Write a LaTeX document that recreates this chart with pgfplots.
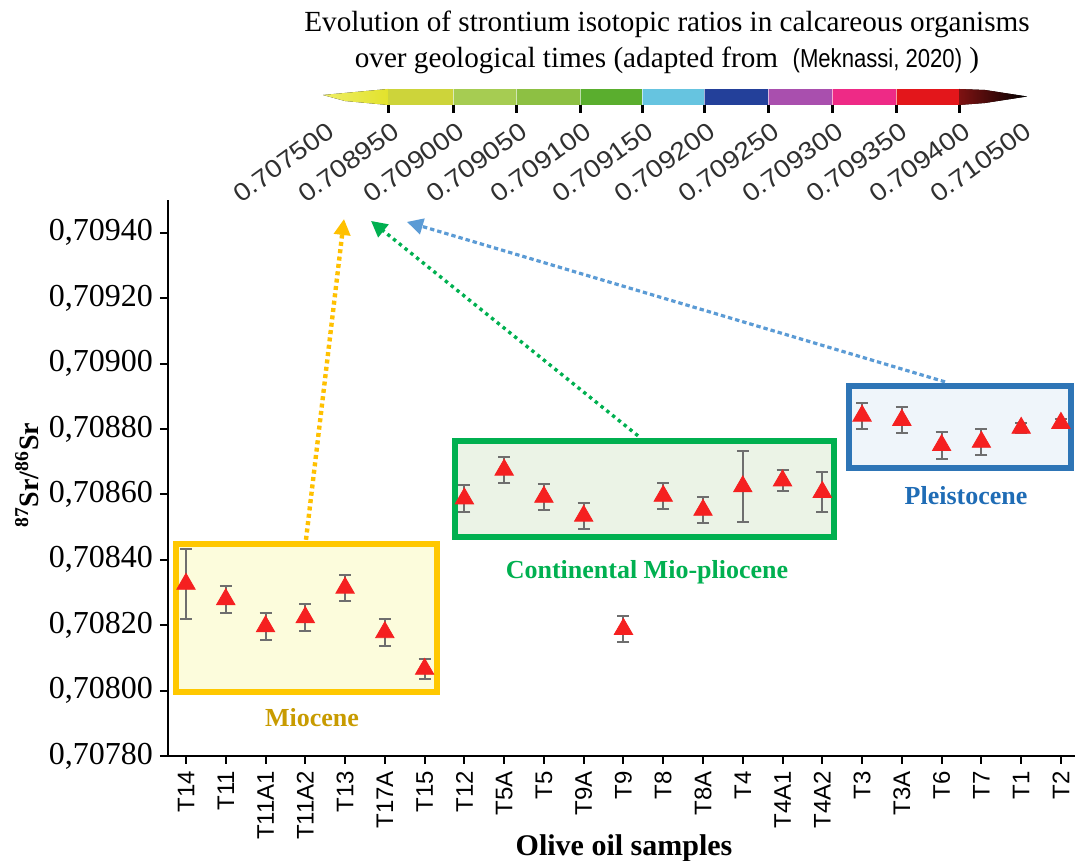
\documentclass[border=0pt]{standalone}
\usepackage{fontspec}
\setmainfont{Liberation Serif}
\setsansfont{Liberation Sans}
\newfontfamily\narrowsans[FakeStretch=0.85]{Liberation Sans}
\newfontfamily\widesans[FakeStretch=1.12]{Liberation Sans}
\usepackage{pgfplots}
\pgfplotsset{compat=1.18}
\usepackage{pgfplotstable}
\usetikzlibrary{arrows.meta}

\definecolor{markred}{HTML}{F52020}
\definecolor{errgray}{HTML}{6E6E6E}
\definecolor{mioborder}{HTML}{FFC800}
\definecolor{miofill}{HTML}{FCFCDC}
\definecolor{miotext}{HTML}{C89B00}
\definecolor{conborder}{HTML}{00B050}
\definecolor{confill}{HTML}{EBF3E6}
\definecolor{context}{HTML}{00B050}
\definecolor{pleborder}{HTML}{2E75B6}
\definecolor{plefill}{HTML}{EFF5FA}
\definecolor{pletext}{HTML}{1F6CB5}
\definecolor{arrorange}{HTML}{FFC000}
\definecolor{arrgreen}{HTML}{00B050}
\definecolor{arrblue}{HTML}{5B9BD5}
\definecolor{cbA}{HTML}{EEEE66}
\definecolor{cbB}{HTML}{E2E22C}
\definecolor{cbC}{HTML}{CDD43A}
\definecolor{cbD}{HTML}{A6CC52}
\definecolor{cbE}{HTML}{8DC043}
\definecolor{cbF}{HTML}{5AAE2E}
\definecolor{cbG}{HTML}{66C4E0}
\definecolor{cbH}{HTML}{23409A}
\definecolor{cbI}{HTML}{A94FAE}
\definecolor{cbJ}{HTML}{EE2A86}
\definecolor{cbK}{HTML}{E3161B}
\definecolor{cbL}{HTML}{7F1212}
\definecolor{cblabel}{HTML}{303030}

\pgfplotstableread{
x y e
0 0.708326 0.000107
1 0.708279 0.000041
2 0.708196 0.000041
3 0.708224 0.000041
4 0.708314 0.000040
5 0.708178 0.000041
6 0.708066 0.000030
7 0.708587 0.000041
8 0.708675 0.000040
9 0.708592 0.000040
10 0.708534 0.000040
11 0.708188 0.000040
12 0.708595 0.000040
13 0.708552 0.000040
14 0.708624 0.000109
15 0.708642 0.000032
16 0.708607 0.000061
17 0.708840 0.000040
18 0.708827 0.000040
19 0.708750 0.000041
20 0.708760 0.000040
21 0.708803 0.000015
22 0.708818 0.000012
}\srdata

\begin{document}
\begin{tikzpicture}
\begin{axis}[
  scale only axis, width=453.5pt, height=278pt,
  xmin=-0.4526, xmax=22.354, ymin=0.7078, ymax=0.7095,
  axis lines*=left,
  axis line style={line width=1pt, black},
  clip=false,
  xtick={0,1,2,3,4,5,6,7,8,9,10,11,12,13,14,15,16,17,18,19,20,21,22},
  xticklabels={T14,T11,T11A1,T11A2,T13,T17A,T15,T12,T5A,T5,T9A,T9,T8,T8A,T4,T4A1,T4A2,T3,T3A,T6,T7,T1,T2},
  ytick={0.7078,0.708,0.7082,0.7084,0.7086,0.7088,0.709,0.7092,0.7094},
  tick align=outside, major tick length=4pt,
  tick style={line width=1pt, black},
  xticklabel style={rotate=90, anchor=east, font=\sffamily\fontsize{12}{14}\selectfont},
  yticklabel style={font=\fontsize{16}{19}\selectfont},
  /pgf/number format/.cd, fixed, fixed zerofill, precision=5, use comma, assume math mode=true,
  /pgfplots/.cd,
  xlabel={Olive oil samples},
  ylabel={\textsuperscript{87}Sr/\textsuperscript{86}Sr},
  xlabel style={at={(axis description cs:0.5028,-0.1655)}, anchor=center, font=\bfseries\fontsize{15}{18}\selectfont},
  ylabel style={at={(axis description cs:-0.1555,0.505)}, anchor=center, font=\bfseries\fontsize{14}{17}\selectfont},
]
% group boxes
\draw[line width=3pt, draw=mioborder, fill=miofill] (axis cs:-0.2514,0.707996) rectangle (axis cs:6.311,0.708448);
\draw[line width=3pt, draw=conborder, fill=confill] (axis cs:6.764,0.708470) rectangle (axis cs:16.294,0.708763);
\draw[line width=3pt, draw=pleborder, fill=plefill] (axis cs:16.671,0.708681) rectangle (axis cs:22.253,0.708931);
% group labels
\node[font=\bfseries\fontsize{13}{15}\selectfont, text=miotext] at (axis cs:3.168,0.707916) {Miocene};
\node[font=\bfseries\fontsize{13}{15}\selectfont, text=context] at (axis cs:11.591,0.708363) {Continental Mio-pliocene};
\node[font=\bfseries\fontsize{13}{15}\selectfont, text=pletext] at (axis cs:19.614,0.708595) {Pleistocene};
% arrows
\draw[arrorange, line width=2.2pt, dash pattern=on 2pt off 1.7pt, -{Triangle[length=8pt,width=8pt]}] (axis cs:3.017,0.708461) -- (axis cs:3.973,0.709442);
\draw[arrgreen, line width=1.7pt, dash pattern=on 1.7pt off 2pt, -{Triangle[length=8pt,width=8pt]}] (axis cs:11.365,0.708779) -- (axis cs:4.652,0.709436);
\draw[arrblue, line width=1.6pt, dash pattern=on 2.2pt off 1.5pt, -{Triangle[length=8pt,width=8pt]}] (axis cs:19.085,0.708944) -- (axis cs:5.557,0.709433);
% data
\addplot[only marks, mark=triangle*, mark size=5.3pt, color=markred,
  error bars/.cd, y dir=both, y explicit,
  error bar style={line width=1pt, color=errgray},
  error mark options={rotate=90, mark size=3pt, line width=1pt, color=errgray}]
  table[x=x, y=y, y error=e] {\srdata};
\coordinate (O) at (rel axis cs:0,0);
\end{axis}

\begin{scope}[shift={(O)}, x=0.5pt, y=-0.5pt, shift={(-168,-756)}]
% title
\node[font=\fontsize{14.6}{18}\selectfont, align=center] at (667,42)
  {Evolution of strontium isotopic ratios in calcareous organisms\\
   over geological times (adapted from \ {\narrowsans\fontsize{13}{18}\selectfont (Meknassi, 2020)} )};
% colour bar
\fill[left color=cbA, right color=cbB] (323,95) -- (388,89) -- (388,105) -- (345,101) -- cycle;
\fill[cbC] (388,89) rectangle (453,105);
\fill[cbD] (453,89) rectangle (516,105);
\fill[cbE] (516,89) rectangle (580,105);
\fill[cbF] (580,89) rectangle (642,105);
\fill[cbG] (642,89) rectangle (704,105);
\fill[cbH] (704,89) rectangle (768,105);
\fill[cbI] (768,89) rectangle (832,105);
\fill[cbJ] (832,89) rectangle (896,105);
\fill[cbK] (896,89) rectangle (959,105);
\fill[left color=cbL, right color=black] (959,89) -- (985,90) -- (1027,96.5) -- (985,103) -- (959,105) -- cycle;
\foreach \x in {453,516,580,642,704,768,832,896}
  \draw[white, opacity=0.6, line width=0.5pt] (\x,89) -- (\x,105);
\foreach \x in {388,453,516,580,642,704,768,832,896,959}
  \draw[black, line width=1.5pt] (\x,105) -- (\x,113);
\foreach \x/\t in {331/0.707500,396/0.708950,461/0.709000,524/0.709050,588/0.709100,650/0.709150,712/0.709200,776/0.709250,840/0.709300,904/0.709350,967/0.709400,1028/0.710500}
  \node[rotate=36, anchor=east, inner sep=0pt, font=\widesans\fontsize{12.5}{15}\selectfont, text=cblabel] at (\x,128) {\t};
\pgfresetboundingbox
\path[use as bounding box] (0,0) rectangle (1075,861);
\end{scope}
\end{tikzpicture}
\end{document}
